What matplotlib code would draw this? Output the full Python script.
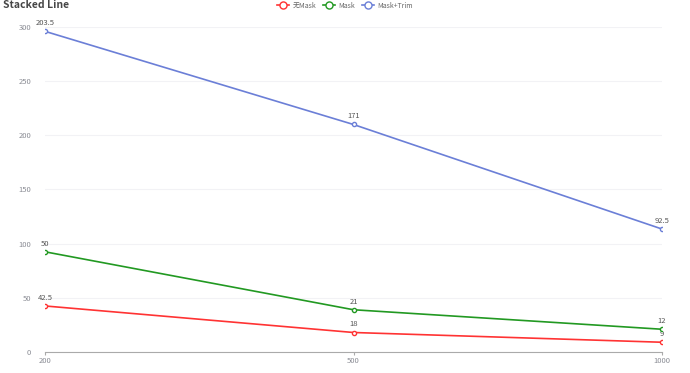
import numpy as np
import matplotlib.pyplot as plt

plt.rcParams['font.family'] = ['Noto Sans CJK SC', 'DejaVu Sans']

categories = ['200', '500', '1000']
series_names = ['无Mask', 'Mask', 'Mask+Trim']
no_mask = [42.5, 18, 9]
mask = [50, 21, 12]
mask_trim = [203.5, 171, 92.5]
colors = ['#ff3333', '#229922', '#6b7fd7']

fig = plt.figure(figsize=(6.9, 3.73), dpi=100)
ax = fig.add_axes([45 / 690, 1 - 352 / 373, (662 - 45) / 690, (352 - 27) / 373])

x = np.arange(len(categories))
bottom = np.zeros(len(categories))
for name, vals, c in zip(series_names, [no_mask, mask, mask_trim], colors):
    top = bottom + np.array(vals)
    ax.plot(x, top, color=c, lw=1.2, marker='o', ms=3, mfc='white', mew=1,
            label=name, zorder=3)
    for xi, yi, v in zip(x, top, vals):
        ax.annotate(f'{v:g}', (xi, yi), xytext=(0, 3), textcoords='offset points',
                    ha='center', va='bottom', fontsize=5.5, color='#555555')
    bottom = top

ax.set_xlim(0, len(categories) - 1)
ax.set_ylim(0, 300)
ax.set_xticks(x)
ax.set_xticklabels(categories)
ax.set_yticks(np.arange(0, 301, 50))
ax.tick_params(axis='y', labelsize=5.5, colors='#8a8c94', length=0, pad=10)
ax.tick_params(axis='x', labelsize=5.5, colors='#8a8c94', length=2.5,
               color='#aaaaaa', pad=1)
ax.grid(axis='y', color='#f2f2f5', lw=0.8)
ax.set_axisbelow(True)
for s in ['top', 'right', 'left']:
    ax.spines[s].set_visible(False)
ax.spines['bottom'].set_color('#aaaaaa')

fig.text(3 / 690, 1 - 5 / 373, 'Stacked Line', fontsize=7.5, fontweight='bold',
         color='#464646', va='center', ha='left')
leg = fig.legend(loc='upper center', bbox_to_anchor=(0.5, 1.012), ncol=3, frameon=False,
                 fontsize=5, handlelength=1.8, columnspacing=0.9, handletextpad=0.5,
                 labelcolor='#666666', markerscale=1.7)

fig.savefig('out.png', dpi=100)
